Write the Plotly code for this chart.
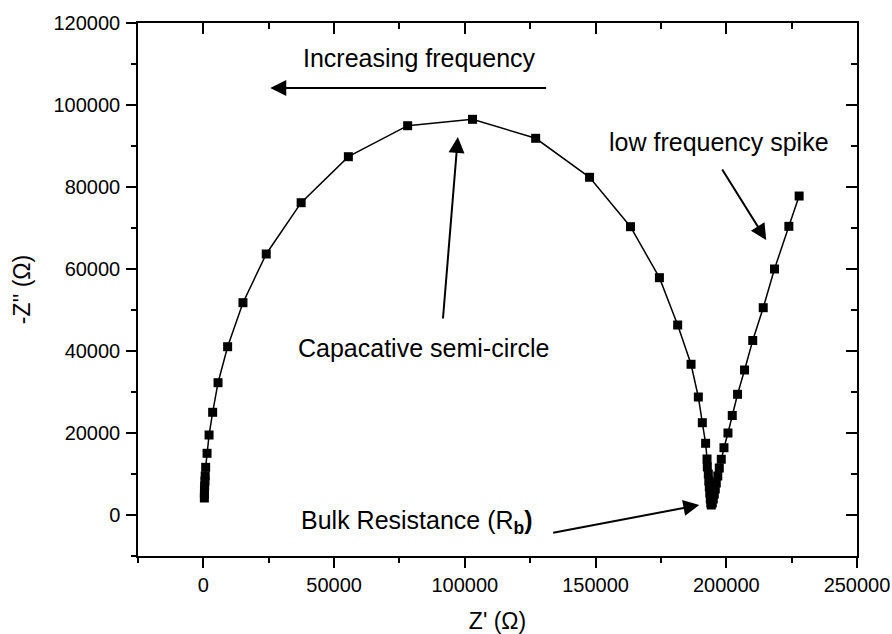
import plotly.graph_objects as go

# Nyquist plot: real vs negative imaginary impedance (ohms)
z_real = [
    380, 400, 420, 500, 600, 700, 880, 1410, 2180, 3550, 5610, 9280,
    15150, 24050, 37400, 55460, 78130, 102940, 127100, 147710, 163360,
    174430, 181410, 186530, 189310, 190840, 192100, 192640,
    192750, 193130, 193320, 193510, 193700, 193890, 194080, 194270,
    194650, 195030, 195420, 195800, 196180, 196750, 197330,
    198090, 199120, 200650, 202290, 204320, 206990, 210120, 214130,
    218440, 223940, 227870,
]
z_imag = [
    4150, 5120, 6100, 7070, 8290, 9510, 11630, 15050, 19510, 25050, 32270, 41050,
    51780, 63660, 76170, 87390, 94950, 96510, 91880, 82370, 70320,
    57880, 46340, 36760, 28780, 22510, 17490, 13660,
    11710, 10000, 8290, 6830, 5370, 3900, 2930, 2440,
    2930, 3900, 5120, 6340, 7800, 9510, 11460,
    13590, 16410, 20000, 24270, 29440, 35370, 42560, 50560,
    60000, 70410, 77800,
]

x_range = [-25000, 250000]
y_range = [-10000, 120000]

FONT = "Liberation Sans, Arial, sans-serif"
fig = go.Figure()

fig.add_trace(go.Scatter(
    x=z_real, y=z_imag, mode="lines+markers",
    line=dict(color="black", width=1.5),
    marker=dict(symbol="square", size=9, color="black"),
    showlegend=False, hoverinfo="x+y",
))
# invisible trace so the mirrored (top/right) axes are drawn
fig.add_trace(go.Scatter(x=[None], y=[None], xaxis="x2", yaxis="y2",
                         showlegend=False, hoverinfo="skip"))

axis_common = dict(
    showgrid=False, zeroline=False, showline=True, linecolor="black",
    linewidth=1.5, tickcolor="black", tickwidth=1.5, tickformat="d",
    automargin=False,
    tickfont=dict(family=FONT, size=20, color="black"),
)

fig.update_layout(
    width=892, height=634,
    margin=dict(l=138, r=35, t=23, b=78),
    paper_bgcolor="white", plot_bgcolor="white",
    xaxis=dict(range=x_range, dtick=50000, ticks="outside", ticklen=10,
               ticklabelstandoff=0,
               minor=dict(dtick=25000, ticks="outside", ticklen=5,
                          tickcolor="black", tickwidth=1.5),
               title=dict(text="Z' (Ω)", font=dict(family=FONT, size=23, color="black"),
                          standoff=18),
               **axis_common),
    yaxis=dict(range=y_range, dtick=20000, ticks="outside", ticklen=10,
               ticklabelstandoff=2,
               minor=dict(dtick=10000, ticks="outside", ticklen=5,
                          tickcolor="black", tickwidth=1.5),
               title=dict(text="-Z'' (Ω)", font=dict(family=FONT, size=23, color="black"),
                          standoff=16),
               **axis_common),
    xaxis2=dict(range=x_range, overlaying="x", side="top", dtick=50000,
                ticks="inside", ticklen=11, showticklabels=False,
                minor=dict(dtick=25000, ticks="inside", ticklen=6,
                           tickcolor="black", tickwidth=1.5),
                **axis_common),
    yaxis2=dict(range=y_range, overlaying="y", side="right", dtick=20000,
                ticks="inside", ticklen=11, showticklabels=False,
                minor=dict(dtick=10000, ticks="inside", ticklen=6,
                           tickcolor="black", tickwidth=1.5),
                **axis_common),
)

label_font = dict(family=FONT, size=25, color="black")
labels = [
    ("Increasing frequency", 82800, 111460),
    ("Capacative semi-circle", 84350, 40730),
    ("low frequency spike", 197330, 90970),
    ("Bulk Resistance (R<sub><b>b</b></sub><b>)</b>", 81680, -1710),
]
for text, lx, ly in labels:
    fig.add_annotation(x=lx, y=ly, xref="x", yref="y", text=text,
                       showarrow=False, font=label_font)

# arrows: (head x, head y, tail x, tail y)
arrows = [
    (25570, 104150, 131680, 104150),
    (97330, 92200, 91600, 47560),
    (215270, 67070, 198090, 84630),
    (189700, 2440, 133210, -4390),
]
for hx, hy, tx, ty in arrows:
    fig.add_annotation(x=hx, y=hy, ax=tx, ay=ty, xref="x", yref="y",
                       axref="x", ayref="y", text="", showarrow=True,
                       arrowhead=2, arrowsize=1.6, arrowwidth=2,
                       arrowcolor="black")

fig.write_html("out.html")
